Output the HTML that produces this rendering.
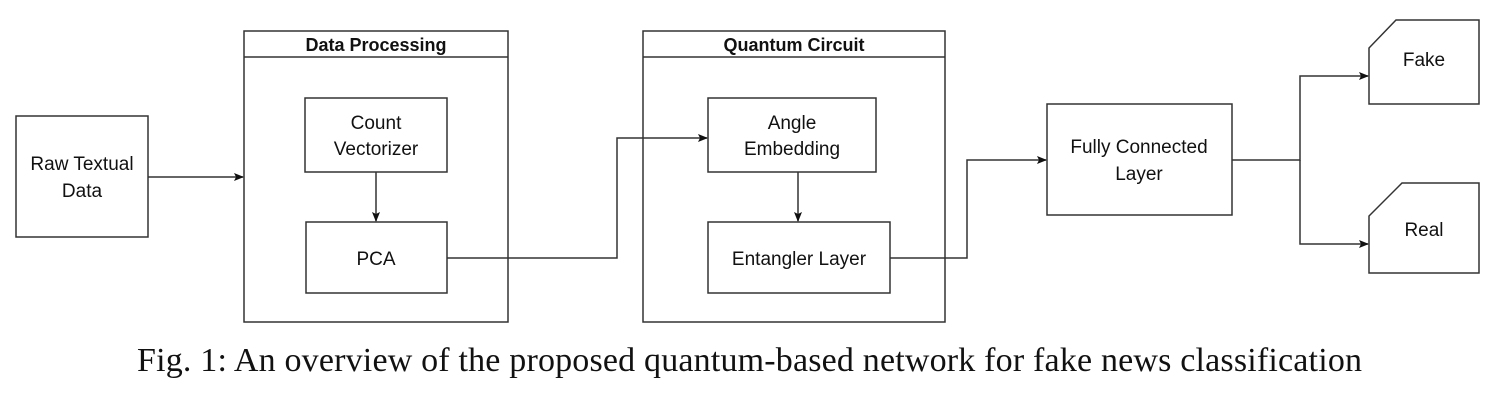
<!DOCTYPE html>
<html><head><style>
body{margin:0;background:#fff;width:1508px;height:412px;overflow:hidden}
svg text{font-family:"Liberation Sans",sans-serif;font-size:19px;fill:#111}
</style></head><body>
<svg width="1508" height="412" style="position:absolute;left:0;top:0">
<defs><marker id="a" markerWidth="10" markerHeight="8" refX="9" refY="4" orient="auto" markerUnits="userSpaceOnUse"><path d="M0,0 L10,4 L0,8 L2,4z" fill="#111"/></marker></defs>
<g fill="none" stroke="#333" stroke-width="1.5">
<rect x="16" y="116" width="132" height="121"/>
<rect x="244" y="31" width="264" height="291"/><line x1="244" y1="57" x2="508" y2="57"/>
<rect x="305" y="98" width="142" height="74"/>
<rect x="306" y="222" width="141" height="71"/>
<rect x="643" y="31" width="302" height="291"/><line x1="643" y1="57" x2="945" y2="57"/>
<rect x="708" y="98" width="168" height="74"/>
<rect x="708" y="222" width="182" height="71"/>
<rect x="1047" y="104" width="185" height="111"/>
<path d="M1396,20 L1479,20 L1479,104 L1369,104 L1369,48 Z"/>
<path d="M1402,183 L1479,183 L1479,273 L1369,273 L1369,216 Z"/>
<path d="M148,177 L243,177" marker-end="url(#a)"/>
<path d="M376,172 L376,221" marker-end="url(#a)"/>
<path d="M447,258 L617,258 L617,138 L707,138" marker-end="url(#a)"/>
<path d="M798,172 L798,221" marker-end="url(#a)"/>
<path d="M890,258 L967,258 L967,160 L1046,160" marker-end="url(#a)"/>
<path d="M1232,160 L1300,160 L1300,76 L1368,76" marker-end="url(#a)"/>
<path d="M1300,160 L1300,244 L1368,244" marker-end="url(#a)"/>
</g>
<text x="82" y="170" text-anchor="middle">Raw Textual</text>
<text x="82" y="197" text-anchor="middle">Data</text>
<text x="376" y="51" text-anchor="middle" font-weight="bold" style="font-size:18px">Data Processing</text>
<text x="376" y="129" text-anchor="middle">Count</text>
<text x="376" y="155" text-anchor="middle">Vectorizer</text>
<text x="376" y="265" text-anchor="middle">PCA</text>
<text x="794" y="51" text-anchor="middle" font-weight="bold" style="font-size:18px">Quantum Circuit</text>
<text x="792" y="129" text-anchor="middle">Angle</text>
<text x="792" y="155" text-anchor="middle">Embedding</text>
<text x="799" y="265" text-anchor="middle">Entangler Layer</text>
<text x="1139" y="153" text-anchor="middle">Fully Connected</text>
<text x="1139" y="180" text-anchor="middle">Layer</text>
<text x="1424" y="66" text-anchor="middle">Fake</text>
<text x="1424" y="236" text-anchor="middle">Real</text>
<text x="137" y="371" textLength="1225" lengthAdjust="spacing" style="font-family:'Liberation Serif',serif;font-size:34px">Fig. 1: An overview of the proposed quantum-based network for fake news classification</text>
</svg>
</body></html>
